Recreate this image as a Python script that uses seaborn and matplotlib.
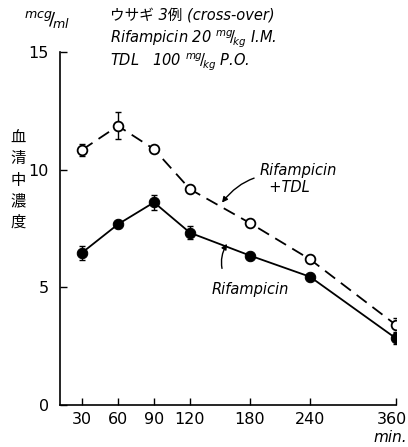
import numpy as np
import pandas as pd
import matplotlib
matplotlib.use("Agg")
import matplotlib.pyplot as plt
import matplotlib.transforms as mtransforms
import seaborn as sns

# sampling times (min) and serum concentrations (mcg/ml), mean and error
times = [30, 60, 90, 120, 180, 240, 360]
combo_mean = [10.84, 11.86, 10.87, 9.17, 7.73, 6.19, 3.40]
combo_err = [0.25, 0.57, 0.10, 0.08, 0.0, 0.0, 0.28]
rif_mean = [6.47, 7.68, 8.61, 7.32, 6.35, 5.45, 2.83]
rif_err = [0.30, 0.12, 0.32, 0.28, 0.0, 0.12, 0.25]
x_ticks = [30, 60, 90, 120, 180, 240, 360]
y_ticks = [0, 5, 10, 15]

sns.set_theme(style="ticks")
plt.rcParams["font.family"] = ["DejaVu Sans", "Noto Sans CJK JP"]
plt.rcParams["mathtext.fontset"] = "dejavusans"
plt.rcParams["text.color"] = "black"

fig = plt.figure(figsize=(4.08, 4.47), dpi=100)
ax = fig.add_axes([60 / 408, 42 / 447, 336 / 408, 353 / 447])

# uneven time axis: early half-hour steps are spread wider than the late hours
knot_t = np.array([0, 30, 60, 90, 120, 180, 240, 360, 480], dtype=float)
knot_p = np.array([-36, 0, 36, 72, 108, 168, 228, 314, 400], dtype=float)


def fwd(t):
    return np.interp(t, knot_t, knot_p)


def inv(p):
    return np.interp(p, knot_p, knot_t)


ax.set_xscale("function", functions=(fwd, inv))

df = pd.DataFrame({"time": times, "combo": combo_mean, "rif": rif_mean})

ax.errorbar(times, combo_mean, yerr=combo_err, fmt="none", ecolor="black",
            elinewidth=1.0, capsize=2.5, capthick=1.0, zorder=2)
ax.errorbar(times, rif_mean, yerr=rif_err, fmt="none", ecolor="black",
            elinewidth=1.0, capsize=2.5, capthick=1.0, zorder=2)

sns.lineplot(data=df, x="time", y="combo", ax=ax, color="black", lw=1.3,
             marker="o", markersize=7, markerfacecolor="white",
             markeredgecolor="black", markeredgewidth=1.3, zorder=3)
ax.lines[-1].set_dashes([7, 4])
sns.lineplot(data=df, x="time", y="rif", ax=ax, color="black", lw=1.3,
             marker="o", markersize=7.5, markerfacecolor="black",
             markeredgecolor="black", zorder=3)

ax.set_xlim(11.67, 360)
ax.set_ylim(0, 15)
ax.set_xticks(x_ticks)
ax.set_xticklabels([str(t) for t in x_ticks])
ax.set_yticks(y_ticks)
ax.set_yticklabels([str(v) for v in y_ticks])
ax.minorticks_off()
ax.tick_params(axis="both", direction="in", length=5, width=1.0,
               labelsize=11.5, color="black", labelcolor="black")
ax.tick_params(axis="x", pad=5)
ax.tick_params(axis="y", pad=8)
ax.set_xlabel("")
ax.set_ylabel("")
for s in ["top", "right"]:
    ax.spines[s].set_visible(False)
for s in ["left", "bottom"]:
    ax.spines[s].set_linewidth(1.2)
    ax.spines[s].set_color("black")

# keep the last time label inside the figure edge
last = ax.get_xticklabels()[-1]
last.set_transform(last.get_transform()
                   + mtransforms.ScaledTranslation(-4 / 100, 0, fig.dpi_scale_trans))

# header texts
fig.text(110 / 408, 1 - 15 / 447, "ウサギ 3例 (cross-over)",
         family=["DejaVu Sans", "Noto Sans CJK JP"], style="italic",
         fontsize=10.5, va="center", ha="left")
fig.text(110 / 408, 1 - 39 / 447, r"Rifampicin 20 $^{mg}\!/\!_{kg}$ I.M.",
         style="italic", fontsize=10.5, va="center", ha="left")
fig.text(110 / 408, 1 - 62 / 447, r"TDL   100 $^{mg}\!/\!_{kg}$ P.O.",
         style="italic", fontsize=10.5, va="center", ha="left")
fig.text(24 / 408, 1 - 20 / 447, r"$^{mcg}\!/\!_{ml}$", fontsize=13,
         va="center", ha="left")

# vertical axis title
fig.text(18 / 408, 1 - 180 / 447, "\n".join("血清中濃度"),
         family=["Noto Sans CJK JP"], fontsize=11, va="center", ha="center",
         linespacing=1.33)

fig.text(390 / 408, 1 - 437 / 447, "min.", style="italic", fontsize=11,
         va="center", ha="center")

# series labels with curved pointers
ax.annotate("Rifampicin\n  +TDL", xy=(152, 8.6), xytext=(190, 9.6),
            fontsize=10.5, style="italic", ha="left", va="center",
            linespacing=1.1,
            arrowprops=dict(arrowstyle="-|>", color="black", lw=1.0,
                            mutation_scale=8,
                            connectionstyle="arc3,rad=0.35",
                            shrinkA=2, shrinkB=0))
ax.annotate("Rifampicin", xy=(157, 6.85), xytext=(142, 4.9),
            fontsize=10.5, style="italic", ha="left", va="center",
            arrowprops=dict(arrowstyle="-|>", color="black", lw=1.0,
                            mutation_scale=8,
                            connectionstyle="arc3,rad=-0.3",
                            shrinkA=8, shrinkB=0,
                            relpos=(0.2, 1.0)))

fig.savefig("out.png", dpi=100)
